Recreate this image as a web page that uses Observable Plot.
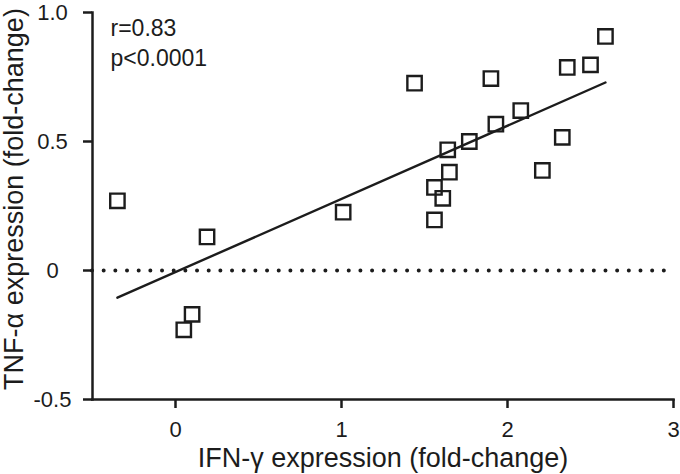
<!DOCTYPE html>
<html><head><meta charset="utf-8">
<script src="https://cdn.jsdelivr.net/npm/d3@7"></script>
<script src="https://cdn.jsdelivr.net/npm/@observablehq/plot@0.6"></script>
<style>body{margin:0;background:#fff}</style>
</head><body><div id="chart"></div>
<script>
// IFN-γ (x) and TNF-α (y) fold-change, one entry per square
const ifnGamma = [-0.35, 0.19, 0.10, 0.05, 1.01, 1.44, 1.90, 2.59, 2.50, 2.36, 2.08, 1.93, 1.77, 1.64, 1.65, 1.56, 1.61, 1.56, 2.21, 2.33];
const tnfAlpha = [0.27, 0.13, -0.17, -0.23, 0.226, 0.726, 0.744, 0.907, 0.797, 0.787, 0.62, 0.567, 0.50, 0.468, 0.381, 0.322, 0.28, 0.196, 0.388, 0.516];
const xTicks = [0, 1, 2, 3];
const xTickLabels = ["0", "1", "2", "3"];
const yTicks = [-0.5, 0, 0.5, 1.0];
const yTickLabels = ["-0.5", "0", "0.5", "1.0"];
const xDomain = [-0.5, 3];
const yDomain = [-0.5, 1.0];
const annotationLines = ["r=0.83", "p<0.0001"];
const xTitle = "IFN-γ expression (fold-change)";
const yTitle = "TNF-α expression (fold-change)";

const data = ifnGamma.map((x, i) => ({x, y: tnfAlpha[i]}));
const ink = "#1c1c1c";

const chart = Plot.plot({
  width: 680, height: 474,
  marginLeft: 92, marginRight: 7, marginTop: 12, marginBottom: 75,
  style: {fontFamily: "'Liberation Sans', Arial, sans-serif", fontSize: "22px", color: ink, background: "#fff"},
  x: {domain: xDomain},
  y: {domain: yDomain},
  marks: [
    Plot.ruleY([0], {stroke: ink, strokeWidth: 4, strokeLinecap: "round", strokeDasharray: "0 11.67"}),
    Plot.linearRegressionY(data, {x: "x", y: "y", ci: 0, stroke: ink, strokeWidth: 2.4}),
    Plot.dot(data, {x: "x", y: "y", symbol: "square", r: 8.1, stroke: ink, strokeWidth: 2.4, fill: "none"}),
    Plot.axisX(xTicks, {tickSize: 9, tickPadding: 13, strokeWidth: 2.5, label: null, fontSize: 22,
      tickFormat: d => xTickLabels[xTicks.indexOf(d)]}),
    Plot.axisY(yTicks, {tickSize: 9, tickPadding: 31, strokeWidth: 2.5, label: null, fontSize: 22, textAnchor: "middle",
      tickFormat: d => yTickLabels[yTicks.indexOf(d)]}),
    Plot.frame({anchor: "left", stroke: ink, strokeWidth: 2.5}),
    Plot.frame({anchor: "bottom", stroke: ink, strokeWidth: 2.5}),
    Plot.text([annotationLines.join("\n")], {frameAnchor: "top-left", dx: 18, dy: 2, textAnchor: "start", lineAnchor: "top", lineHeight: 1.3, fontSize: 23}),
    Plot.text([xTitle], {frameAnchor: "bottom", dy: 59, textAnchor: "middle", lineAnchor: "middle", fontSize: 27}),
    Plot.text([yTitle], {frameAnchor: "left", dx: -78, dy: -7, rotate: -90, textAnchor: "middle", lineAnchor: "middle", fontSize: 27})
  ]
});
document.getElementById("chart").append(chart);
</script>
</body></html>
